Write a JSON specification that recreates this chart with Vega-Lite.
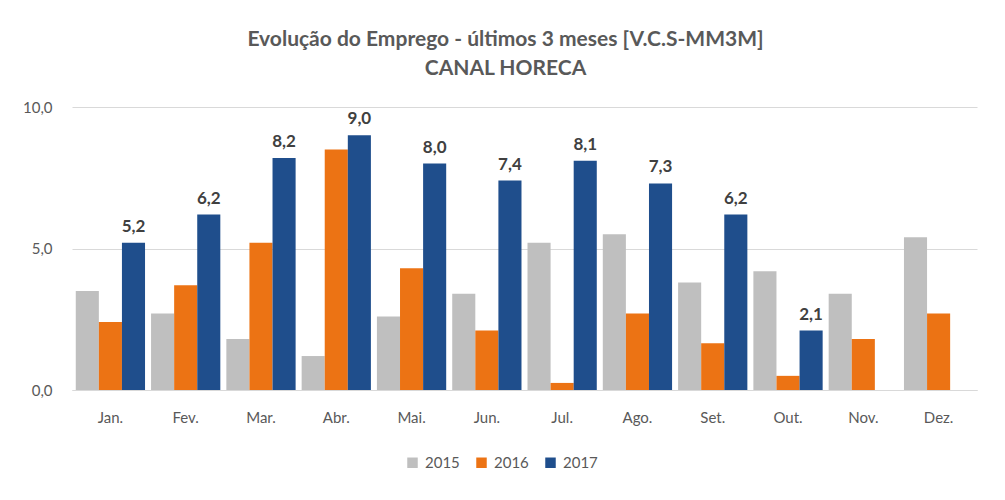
{
  "$schema": "https://vega.github.io/schema/vega-lite/v6.json",
  "width": 905,
  "height": 283,
  "autosize": {"type": "none"},
  "padding": {"left": 72, "top": 107, "right": 28, "bottom": 110},
  "background": "white",
  "title": {
    "text": ["Evolução do Emprego - últimos 3 meses [V.C.S-MM3M]", "CANAL HORECA"],
    "anchor": "middle",
    "frame": "group",
    "dx": -19,
    "offset": 21,
    "font": "Lato",
    "fontSize": 21,
    "fontWeight": "bold",
    "color": "#595959",
    "lineHeight": 29
  },
  "config": {
    "locale": {"number": {"decimal": ",", "thousands": ".", "grouping": [3], "currency": ["", " €"]}},
    "view": {"stroke": null},
    "font": "Lato"
  },
  "data": {
    "values": [
      {"mes": "Jan.", "ano": "2015", "valor": 3.5},
      {"mes": "Jan.", "ano": "2016", "valor": 2.4},
      {"mes": "Jan.", "ano": "2017", "valor": 5.2},
      {"mes": "Fev.", "ano": "2015", "valor": 2.7},
      {"mes": "Fev.", "ano": "2016", "valor": 3.7},
      {"mes": "Fev.", "ano": "2017", "valor": 6.2},
      {"mes": "Mar.", "ano": "2015", "valor": 1.8},
      {"mes": "Mar.", "ano": "2016", "valor": 5.2},
      {"mes": "Mar.", "ano": "2017", "valor": 8.2},
      {"mes": "Abr.", "ano": "2015", "valor": 1.2},
      {"mes": "Abr.", "ano": "2016", "valor": 8.5},
      {"mes": "Abr.", "ano": "2017", "valor": 9.0},
      {"mes": "Mai.", "ano": "2015", "valor": 2.6},
      {"mes": "Mai.", "ano": "2016", "valor": 4.3},
      {"mes": "Mai.", "ano": "2017", "valor": 8.0},
      {"mes": "Jun.", "ano": "2015", "valor": 3.4},
      {"mes": "Jun.", "ano": "2016", "valor": 2.1},
      {"mes": "Jun.", "ano": "2017", "valor": 7.4},
      {"mes": "Jul.", "ano": "2015", "valor": 5.2},
      {"mes": "Jul.", "ano": "2016", "valor": 0.25},
      {"mes": "Jul.", "ano": "2017", "valor": 8.1},
      {"mes": "Ago.", "ano": "2015", "valor": 5.5},
      {"mes": "Ago.", "ano": "2016", "valor": 2.7},
      {"mes": "Ago.", "ano": "2017", "valor": 7.3},
      {"mes": "Set.", "ano": "2015", "valor": 3.8},
      {"mes": "Set.", "ano": "2016", "valor": 1.65},
      {"mes": "Set.", "ano": "2017", "valor": 6.2},
      {"mes": "Out.", "ano": "2015", "valor": 4.2},
      {"mes": "Out.", "ano": "2016", "valor": 0.5},
      {"mes": "Out.", "ano": "2017", "valor": 2.1},
      {"mes": "Nov.", "ano": "2015", "valor": 3.4},
      {"mes": "Nov.", "ano": "2016", "valor": 1.8},
      {"mes": "Dez.", "ano": "2015", "valor": 5.4},
      {"mes": "Dez.", "ano": "2016", "valor": 2.7}
    ]
  },
  "encoding": {
    "x": {
      "field": "mes",
      "type": "nominal",
      "sort": ["Jan.", "Fev.", "Mar.", "Abr.", "Mai.", "Jun.", "Jul.", "Ago.", "Set.", "Out.", "Nov.", "Dez."],
      "scale": {"paddingInner": 0.08, "paddingOuter": 0.05},
      "axis": {
        "title": null,
        "labelAngle": 0,
        "ticks": false,
        "domainColor": "#D9D9D9",
        "domainWidth": 1,
        "labelColor": "#595959",
        "labelFontSize": 15,
        "labelPadding": 20,
        "labelFont": "Lato"
      }
    },
    "xOffset": {"field": "ano", "type": "nominal", "scale": {"paddingInner": 0, "paddingOuter": 0}},
    "y": {
      "field": "valor",
      "type": "quantitative",
      "scale": {"domain": [0, 10], "nice": false},
      "axis": {
        "title": null,
        "values": [0, 5, 10],
        "format": ".1f",
        "domain": false,
        "ticks": false,
        "gridColor": "#D9D9D9",
        "labelColor": "#595959",
        "labelFontSize": 15,
        "labelPadding": 20,
        "labelFont": "Lato"
      }
    }
  },
  "layer": [
    {
      "mark": {"type": "bar"},
      "encoding": {
        "color": {
          "field": "ano",
          "type": "nominal",
          "scale": {"domain": ["2015", "2016", "2017"], "range": ["#BFBFBF", "#EC7314", "#1F4E8C"]},
          "legend": {
            "title": null,
            "orient": "none",
            "direction": "horizontal",
            "legendX": 333,
            "legendY": 348,
            "symbolType": "square",
            "symbolSize": 110,
            "symbolStrokeWidth": 0,
            "labelFontSize": 15,
            "labelColor": "#595959",
            "labelFont": "Lato",
            "columnPadding": 14,
            "labelOffset": 5
          }
        }
      }
    },
    {
      "transform": [{"filter": "datum.ano === '2017'"}],
      "mark": {"type": "text", "baseline": "bottom", "dy": -7, "fontSize": 17, "fontWeight": "bold", "color": "#404040", "font": "Lato"},
      "encoding": {
        "text": {"field": "valor", "type": "quantitative", "format": ".1f"}
      }
    }
  ]
}
